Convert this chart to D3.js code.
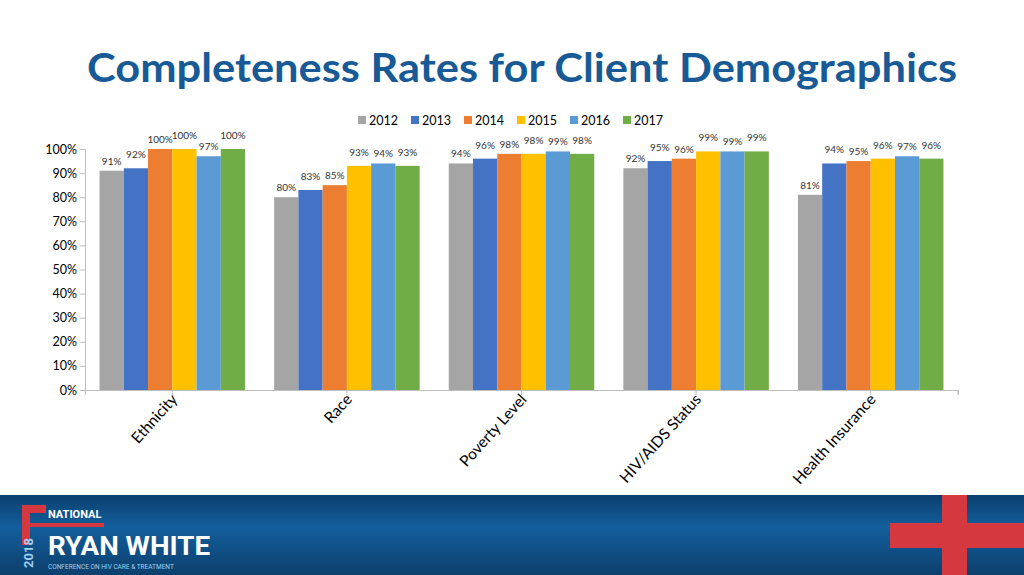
<!DOCTYPE html><html><head><meta charset="utf-8"><script src="https://cdn.jsdelivr.net/npm/d3@7"></script>
<style>body{margin:0;background:#fff;font-family:Lato,"Open Sans",sans-serif}</style></head><body><svg id="c" width="1024" height="575"></svg><script>
const categories=["Ethnicity","Race","Poverty Level","HIV/AIDS Status","Health Insurance"];
const years=["2012","2013","2014","2015","2016","2017"];
const v2012=[91,80,94,92,81];
const v2013=[92,83,96,95,94];
const v2014=[100,85,98,96,95];
const v2015=[100,93,98,99,96];
const v2016=[97,94,99,99,97];
const v2017=[100,93,98,99,96];
const series=[v2012,v2013,v2014,v2015,v2016,v2017];
const colors=["#a5a5a5","#4472c4","#ed7d31","#ffc000","#5b9bd5","#70ad47"];
const yTicks=[0,10,20,30,40,50,60,70,80,90,100];
const svg=d3.select("#c");
const defs=svg.append("defs");
const g1=defs.append("linearGradient").attr("id","fg").attr("x1",0).attr("y1",0).attr("x2",0).attr("y2",1);
g1.append("stop").attr("offset","0").attr("stop-color","#0b3f6e");
g1.append("stop").attr("offset","0.4").attr("stop-color","#135e9c");
g1.append("stop").attr("offset","1").attr("stop-color","#0c3f6c");
svg.append("rect").attr("x",0).attr("y",495).attr("width",1024).attr("height",80).attr("fill","url(#fg)");
svg.append("rect").attr("x",942).attr("y",495).attr("width",25).attr("height",80).attr("fill","#d5383e");
svg.append("rect").attr("x",890).attr("y",523).attr("width",134).attr("height",25).attr("fill","#d5383e");
svg.append("rect").attr("x",22).attr("y",505).attr("width",8).attr("height",40).attr("fill","#d5383e");
svg.append("rect").attr("x",22).attr("y",505).attr("width",24).attr("height",8).attr("fill","#d5383e");
svg.append("rect").attr("x",30).attr("y",523).attr("width",74).attr("height",4).attr("fill","#d5383e");
svg.append("text").attr("x",48).attr("y",518).text("NATIONAL").attr("fill","#fff").attr("font-weight","bold").attr("font-size",11).attr("font-family","Roboto");
svg.append("text").attr("x",48).attr("y",555).text("RYAN WHITE").attr("fill","#fff").attr("font-weight","bold").attr("font-size",26).attr("textLength",162).attr("lengthAdjust","spacingAndGlyphs").attr("font-family","Roboto");
svg.append("text").attr("x",48).attr("y",569).text("CONFERENCE ON HIV CARE & TREATMENT").attr("fill","#9fd0f0").attr("font-size",6.5).attr("font-family","Roboto");
svg.append("text").attr("transform","translate(33,568) rotate(-90)").text("2018").attr("fill","#9fd0f0").attr("font-weight","bold").attr("font-size",13).attr("font-family","Roboto");
svg.append("text").attr("x",522).attr("y",82).attr("text-anchor","middle").attr("fill","#175a95").attr("font-weight","bold").attr("font-size",41).attr("textLength",870).attr("lengthAdjust","spacingAndGlyphs").text("Completeness Rates for Client Demographics");
const lg=svg.append("g").attr("font-size",12.5).attr("fill","#000");
years.forEach((y,i)=>{const x=358+i*53;lg.append("rect").attr("x",x).attr("y",116).attr("width",8).attr("height",8).attr("fill",colors[i]);lg.append("text").attr("x",x+11).attr("y",124.5).text(y);});
const x=d3.scaleBand().domain(categories).range([85,958]);
const xi=d3.scaleBand().domain(d3.range(6)).range([0,x.bandwidth()]).paddingOuter(0.6).paddingInner(0);
const y=d3.scaleLinear().domain([0,100]).range([390,149]);
svg.append("g").attr("transform","translate(85,0)").call(d3.axisLeft(y).tickValues(yTicks).tickFormat(d=>d+"%").tickSize(5)).call(g=>{g.selectAll("text").attr("font-size",12.5).attr("font-family","Lato").attr("fill","#000");g.selectAll("line,path").attr("stroke","#bfbfbf");});
svg.append("g").attr("transform","translate(0,390)").call(d3.axisBottom(x).tickSize(5).tickFormat("")).call(g=>g.selectAll("line,path").attr("stroke","#bfbfbf"));
svg.append("line").attr("x1",958).attr("x2",958).attr("y1",390).attr("y2",395).attr("stroke","#bfbfbf");
categories.forEach(c=>{svg.append("text").attr("transform",`translate(${x(c)+x.bandwidth()/2+6},400) rotate(-48)`).attr("text-anchor","end").attr("font-size",15.5).attr("fill","#000").text(c);});
categories.forEach((c,ci)=>{series.forEach((s,si)=>{const bx=x(c)+xi(si);svg.append("rect").attr("x",bx).attr("y",y(s[ci])).attr("width",xi.bandwidth()).attr("height",390-y(s[ci])).attr("fill",colors[si]);
svg.append("text").attr("x",bx+xi.bandwidth()/2).attr("y",y(s[ci])-6-(si%2)*4).attr("text-anchor","middle").attr("font-size",10).attr("fill","#333").text(s[ci]+"%");});});
</script></body></html>
